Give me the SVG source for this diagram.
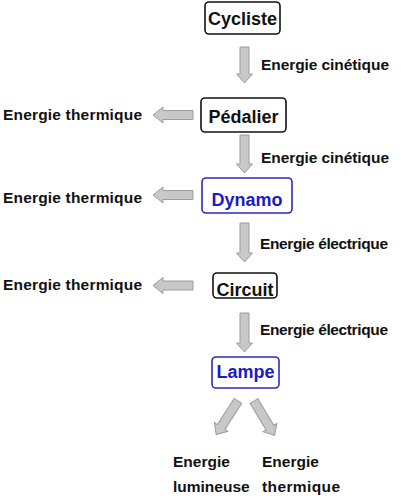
<svg xmlns="http://www.w3.org/2000/svg" width="401" height="500" viewBox="0 0 401 500">
<style>
.box{fill:#ffffff;stroke:#111111;stroke-width:1.6}
.bbox{fill:#ffffff;stroke:#2a2ac0;stroke-width:1.6}
.nt{font-family:"Liberation Sans",Arial,sans-serif;font-weight:bold;font-size:18px;fill:#111111;text-anchor:middle}
.bt{fill:#1a1ac8}
.lb{font-family:"Liberation Sans",Arial,sans-serif;font-weight:bold;font-size:15.5px;fill:#111111}
.ar{fill:#c8c8c8;stroke:#9c9c9c;stroke-width:1}
</style>
<rect width="401" height="500" fill="#ffffff"/>
<g id="connectors">
<polygon class="ar" points="240,47 249,47 249,74 252.5,74 244.5,83 236.5,74 240,74"/>
<polygon class="ar" points="240,135 249,135 249,164 252.5,164 244.5,173 236.5,164 240,164"/>
<polygon class="ar" points="240,223 249,223 249,253 252.5,253 244.5,262 236.5,253 240,253"/>
<polygon class="ar" points="240,313 249,313 249,343 252.5,343 244.5,352 236.5,343 240,343"/>
<polygon class="ar" points="193,110.5 163,110.5 163,107 153,115 163,123 163,119.5 193,119.5"/>
<polygon class="ar" points="193,190.5 163,190.5 163,187 153,195 163,203 163,199.5 193,199.5"/>
<polygon class="ar" points="193,281 163,281 163,277.5 153,285.5 163,293.5 163,290 193,290"/>
<polygon class="ar" transform="translate(238,401) rotate(33)" points="-4.5,0 4.5,0 4.5,31 8,31 0,40 -8,31 -4.5,31"/>
<polygon class="ar" transform="translate(254,401) rotate(-31)" points="-4.5,0 4.5,0 4.5,31 8,31 0,40 -8,31 -4.5,31"/>
</g>
<g id="labels">
<text class="lb" x="261" y="70" textLength="128">Energie cinétique</text>
<text class="lb" x="261" y="163" textLength="128">Energie cinétique</text>
<text class="lb" x="260" y="249" textLength="128">Energie électrique</text>
<text class="lb" x="260" y="335" textLength="128">Energie électrique</text>
<text class="lb" x="3" y="120" textLength="139">Energie thermique</text>
<text class="lb" x="3" y="203" textLength="139">Energie thermique</text>
<text class="lb" x="3" y="290" textLength="139">Energie thermique</text>
<text class="lb" x="173" y="467">Energie</text>
<text class="lb" x="173" y="492">lumineuse</text>
<text class="lb" x="262" y="467">Energie</text>
<text class="lb" x="262" y="492" textLength="78">thermique</text>
</g>
<g id="cycliste">
<rect class="box" x="205" y="2" width="75" height="32" rx="4"/>
<text class="nt" x="242.5" y="25">Cycliste</text>
</g>
<g id="pedalier">
<rect class="box" x="201" y="98" width="85" height="34" rx="4"/>
<text class="nt" x="243.5" y="123">Pédalier</text>
</g>
<g id="dynamo">
<rect class="bbox" x="202" y="178" width="90" height="35" rx="4"/>
<text class="nt bt" x="247" y="206">Dynamo</text>
</g>
<g id="circuit">
<rect class="box" x="213" y="273" width="64" height="25" rx="4"/>
<text class="nt" x="245" y="296">Circuit</text>
</g>
<g id="lampe">
<rect class="bbox" x="212" y="357" width="67" height="31" rx="4"/>
<text class="nt bt" x="245.5" y="378">Lampe</text>
</g>
</svg>
